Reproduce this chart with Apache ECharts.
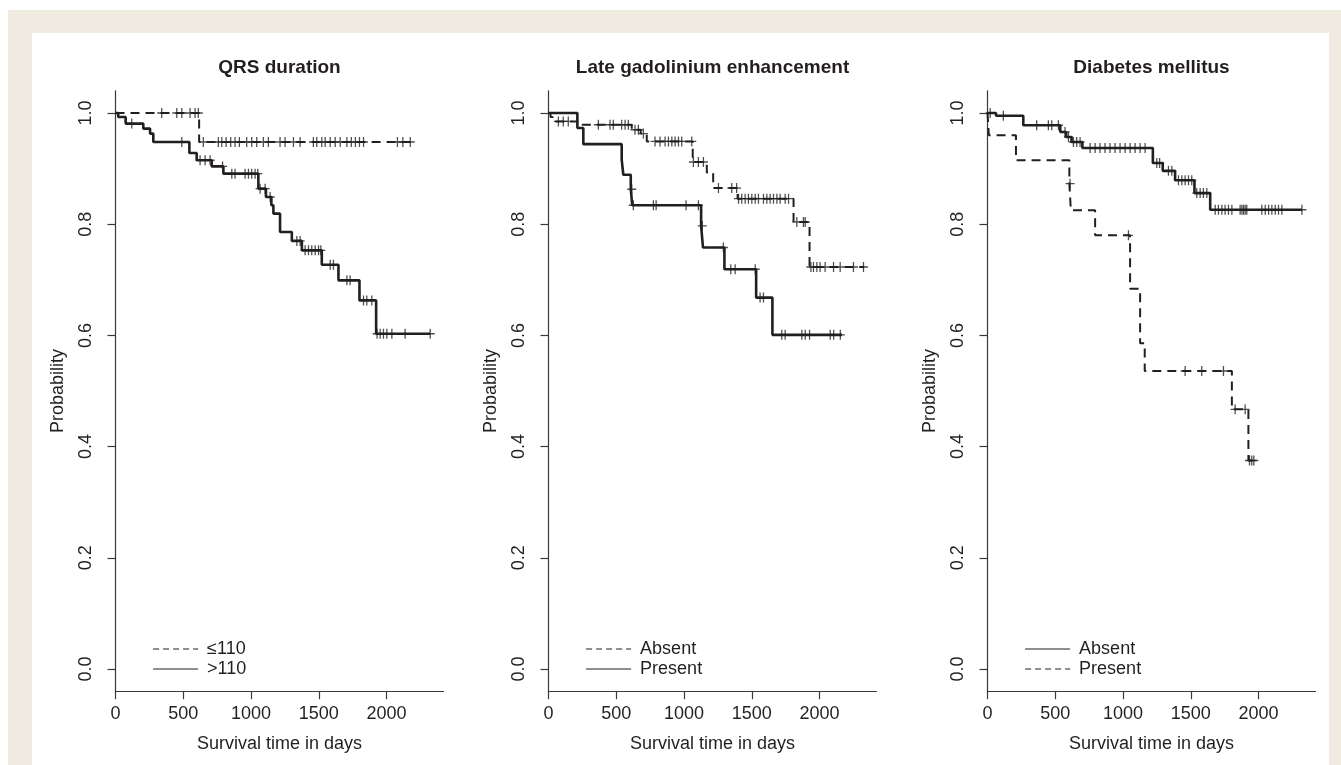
<!DOCTYPE html>
<html>
<head>
<meta charset="utf-8">
<script src="https://cdn.jsdelivr.net/npm/echarts@6/dist/echarts.min.js"></script>
<style>
  html, body { margin: 0; padding: 0; background: #ffffff; }
  #frame { position: absolute; left: 8px; top: 10px; width: 1333px; height: 755px; background: #efebe0; }
  #panel { position: absolute; left: 32px; top: 33px; width: 1297px; height: 732px; background: #ffffff; }
  #chart { position: absolute; left: 0; top: 0; width: 1341px; height: 765px; }
</style>
</head>
<body>
<div id="frame"></div>
<div id="panel"></div>
<div id="chart"></div>
<script>
// ---------- data ----------
const panelTitles = ['QRS duration', 'Late gadolinium enhancement', 'Diabetes mellitus'];
const xTicks = [0, 500, 1000, 1500, 2000];
const yTicks = [0, 0.2, 0.4, 0.6, 0.8, 1.0];

// Panel 1: QRS duration
const qrsLowCurve = [[0, 1.0], [617, 0.948], [2180, 0.948]];
const qrsLowCensor = [341, 452, 489, 550, 587, 611, 648, 759, 784, 816, 850, 882, 914, 968, 1005, 1042, 1091, 1128, 1214, 1251, 1313, 1362, 1460, 1485, 1522, 1547, 1584, 1621, 1658, 1707, 1740, 1770, 1800, 1830, 2080, 2120, 2175];
const qrsHighCurve = [[0, 1.0], [20, 0.993], [75, 0.981], [205, 0.972], [255, 0.963], [279, 0.948], [545, 0.928], [599, 0.915], [710, 0.904], [796, 0.891], [1054, 0.864], [1110, 0.849], [1150, 0.834], [1165, 0.819], [1214, 0.786], [1301, 0.770], [1375, 0.753], [1522, 0.727], [1645, 0.699], [1800, 0.663], [1923, 0.603], [2322, 0.603]];
const qrsHighCensor = [120, 489, 624, 661, 698, 790, 858, 882, 956, 981, 1005, 1030, 1050, 1067, 1104, 1141, 1338, 1362, 1399, 1424, 1448, 1473, 1498, 1515, 1584, 1608, 1707, 1731, 1830, 1854, 1891, 1930, 1953, 1977, 2002, 2039, 2137, 2322];

// Panel 2: Late gadolinium enhancement
const lgeAbsentCurve = [[0, 1.0], [15, 0.993], [30, 0.985], [212, 0.979], [614, 0.970], [680, 0.963], [725, 0.949], [1064, 0.912], [1168, 0.893], [1215, 0.865], [1395, 0.846], [1808, 0.804], [1926, 0.723], [2330, 0.723]];
const lgeAbsentCensor = [73, 109, 146, 368, 454, 478, 540, 565, 589, 638, 663, 700, 786, 823, 860, 885, 910, 934, 959, 983, 1057, 1069, 1106, 1143, 1254, 1352, 1388, 1402, 1426, 1451, 1475, 1500, 1525, 1549, 1586, 1611, 1635, 1660, 1685, 1709, 1746, 1771, 1832, 1881, 1894, 1936, 1955, 1980, 2004, 2041, 2103, 2152, 2250, 2324];
const lgePresentCurve = [[0, 1.0], [213, 0.973], [257, 0.944], [540, 0.916], [552, 0.889], [607, 0.863], [618, 0.834], [1126, 0.797], [1140, 0.758], [1298, 0.719], [1532, 0.668], [1652, 0.601], [2165, 0.601]];
const lgePresentCensor = [614, 626, 774, 794, 1015, 1106, 1135, 1290, 1345, 1377, 1525, 1561, 1586, 1721, 1746, 1869, 1894, 1926, 2079, 2104, 2153];

// Panel 3: Diabetes mellitus
const dmAbsentCurve = [[0, 1.0], [63, 0.995], [264, 0.978], [537, 0.966], [580, 0.957], [620, 0.948], [700, 0.937], [1220, 0.910], [1293, 0.896], [1384, 0.879], [1527, 0.856], [1643, 0.826], [2320, 0.826]];
const dmAbsentCensor = [20, 117, 363, 449, 474, 523, 572, 597, 634, 658, 683, 757, 794, 830, 867, 904, 941, 978, 1015, 1052, 1089, 1126, 1163, 1249, 1270, 1335, 1360, 1409, 1434, 1458, 1483, 1507, 1544, 1569, 1593, 1618, 1680, 1704, 1729, 1753, 1778, 1803, 1864, 1877, 1889, 1901, 1913, 2024, 2049, 2074, 2098, 2123, 2147, 2172, 2320];
const dmPresentCurve = [[0, 1.0], [10, 0.960], [210, 0.915], [604, 0.873], [615, 0.825], [794, 0.780], [1052, 0.684], [1126, 0.586], [1160, 0.536], [1803, 0.467], [1925, 0.375], [1975, 0.375]];
const dmPresentCensor = [609, 1040, 1458, 1581, 1741, 1827, 1901, 1933, 1950, 1965];

const legendLabels = [
  [['qrsLow', '≤110', 'dashed'], ['qrsHigh', '>110', 'solid']],
  [['lgeAbsent', 'Absent', 'dashed'], ['lgePresent', 'Present', 'solid']],
  [['dmAbsent', 'Absent', 'solid'], ['dmPresent', 'Present', 'dashed']]
];

// ---------- chart ----------
const FONT = '"Liberation Sans", Arial, Helvetica, sans-serif';
const INK = '#231f20';
const AXIS = '#3a3a3a';
const xMax = 2420;
const gridLefts = [115.5, 548.5, 987.5];
const gridW = 328;
const gridTop = 90.8, gridH = 600.4;
const PLUS = 'path://M4.3,0H5.7V4.3H10V5.7H5.7V10H4.3V5.7H0V4.3H4.3Z';
const DASH = [9, 6];

function stepAt(curve, t) {
  let v = curve[0][1];
  for (const p of curve) { if (p[0] <= t) v = p[1]; else break; }
  return v;
}

const curves = {
  qrsLow: [qrsLowCurve, qrsLowCensor, 0],
  qrsHigh: [qrsHighCurve, qrsHighCensor, 0],
  lgeAbsent: [lgeAbsentCurve, lgeAbsentCensor, 1],
  lgePresent: [lgePresentCurve, lgePresentCensor, 1],
  dmAbsent: [dmAbsentCurve, dmAbsentCensor, 2],
  dmPresent: [dmPresentCurve, dmPresentCensor, 2]
};
const styleOf = {};
legendLabels.forEach(g => g.forEach(([k, , s]) => styleOf[k] = s));
const labelOf = {};
legendLabels.forEach(g => g.forEach(([k, l]) => labelOf[k] = l));

const series = [];
Object.keys(curves).forEach(key => {
  const [curve, cens, gi] = curves[key];
  const dashed = styleOf[key] === 'dashed';
  series.push({
    name: key, type: 'line', step: 'end', xAxisIndex: gi, yAxisIndex: gi,
    data: curve, symbol: 'none', showSymbol: false, z: 3,
    lineStyle: { color: INK, width: dashed ? 2 : 2.6, type: dashed ? DASH : 'solid', cap: 'butt' },
    itemStyle: { color: INK }
  });
  series.push({
    name: key + '_c', type: 'scatter', xAxisIndex: gi, yAxisIndex: gi,
    data: cens.map(t => [t, stepAt(curve, t)]),
    symbol: PLUS, symbolSize: [9, 10], z: 4,
    itemStyle: { color: INK }
  });
});

const grids = [], xAxes = [], yAxes = [], titles = [], legends = [];
for (let i = 0; i < 3; i++) {
  grids.push({ left: gridLefts[i], top: gridTop, width: gridW, height: gridH, containLabel: false });
  xAxes.push({
    gridIndex: i, type: 'value', min: 0, max: xMax,
    axisLine: { show: true, onZero: false, lineStyle: { color: AXIS, width: 1.2 } },
    axisTick: { show: true, length: 8, customValues: xTicks, lineStyle: { color: AXIS, width: 1.2 } },
    axisLabel: { customValues: xTicks, fontSize: 18, color: INK, fontFamily: FONT, margin: 14,
      formatter: v => String(v) },
    splitLine: { show: false },
    name: 'Survival time in days', nameLocation: 'middle', nameGap: 44,
    nameTextStyle: { fontSize: 18, color: INK, fontFamily: FONT }
  });
  yAxes.push({
    gridIndex: i, type: 'value', min: -0.04, max: 1.04,
    axisLine: { show: true, onZero: false, lineStyle: { color: AXIS, width: 1.2 } },
    axisTick: { show: true, length: 8, customValues: yTicks, lineStyle: { color: AXIS, width: 1.2 } },
    axisLabel: { customValues: yTicks, fontSize: 18, color: INK, fontFamily: FONT, margin: 20, rotate: 90,
      formatter: v => Number(v).toFixed(1) },
    splitLine: { show: false },
    name: 'Probability', nameLocation: 'middle', nameGap: 48, nameRotate: 90,
    nameTextStyle: { fontSize: 18, color: INK, fontFamily: FONT }
  });
  titles.push({
    text: panelTitles[i], left: gridLefts[i] + gridW / 2, top: 58, textAlign: 'center', padding: 0,
    textStyle: { fontSize: 19, fontWeight: 'bold', color: INK, fontFamily: FONT }
  });
  legends.push({
    orient: 'vertical', left: gridLefts[i] + 37, top: 639, padding: 0, itemGap: 0,
    itemWidth: 45, itemHeight: 14, selectedMode: false,
    data: legendLabels[i].map(([k, , s]) => ({
      name: k,
      itemStyle: { opacity: 0 },
      lineStyle: { width: 1.2, type: s === 'dashed' ? [6, 4] : 'solid', color: INK }
    })),
    formatter: n => labelOf[n],
    textStyle: { fontSize: 18, color: INK, fontFamily: FONT, lineHeight: 20, padding: [0, 0, 0, 4] }
  });
}

const chart = echarts.init(document.getElementById('chart'), null, { renderer: 'canvas' });
chart.setOption({
  backgroundColor: 'transparent',
  animation: false,
  title: titles,
  legend: legends,
  grid: grids,
  xAxis: xAxes,
  yAxis: yAxes,
  series: series
});
</script>
</body>
</html>
